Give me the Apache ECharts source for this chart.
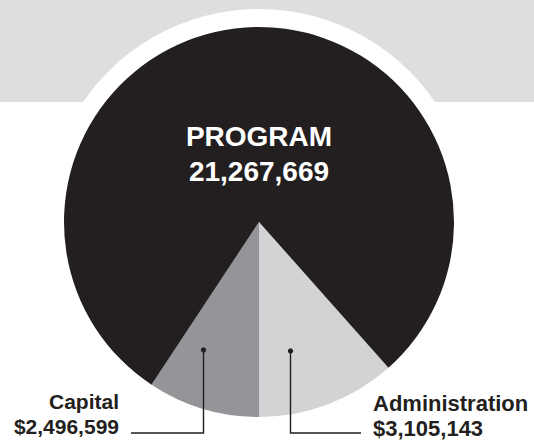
<!DOCTYPE html>
<html>
<head>
<meta charset="utf-8">
<script src="https://cdn.jsdelivr.net/npm/echarts@6/dist/echarts.min.js"></script>
<style>
html,body{margin:0;padding:0;background:#ffffff;}
#chart{width:534px;height:443px;}
</style>
</head>
<body>
<div id="chart"></div>
<script>
// ---- data ----
var categories = ['Administration', 'Capital', 'PROGRAM'];
var amounts = [3105143, 2496599, 21267669];
var valueLabels = ['$3,105,143', '$2,496,599', '21,267,669'];
var colors = ['#d1d3d4', '#939598', '#231f20'];

// ---- layout constants ----
var CX = 259, CY = 222, R = 195, RING = 213;
var total = amounts.reduce(function (a, b) { return a + b; }, 0);
var adminDeg = 360 * amounts[0] / total;

var chart = echarts.init(document.getElementById('chart'), null, { renderer: 'svg' });

var labelSpec = [
  { x: 373, y: 416, align: 'left', line: [[290.5, 351], [290.5, 433], [361, 433]] },
  { x: 119, y: 414, align: 'right', line: [[203.5, 350], [203.5, 433], [131, 433]] },
  { x: CX, y: 154, align: 'center' }
];

var graphics = [
  { type: 'rect', z: -10, silent: true, shape: { x: 0, y: 0, width: 534, height: 102 }, style: { fill: '#dddee0' } },
  { type: 'circle', z: -5, silent: true, shape: { cx: CX, cy: CY, r: RING }, style: { fill: '#ffffff' } }
];
labelSpec.forEach(function (s) {
  if (!s.line) return;
  graphics.push({ type: 'polyline', z: 100, silent: true, shape: { points: s.line }, style: { stroke: '#231f20', lineWidth: 1.4, fill: null } });
  graphics.push({ type: 'circle', z: 101, silent: true, shape: { cx: s.line[0][0], cy: s.line[0][1], r: 2.7 }, style: { fill: '#231f20' } });
});

var option = {
  animation: false,
  backgroundColor: '#ffffff',
  graphic: graphics,
  series: [{
    type: 'pie',
    center: [CX, CY],
    radius: [0, R],
    startAngle: -90 + adminDeg,
    clockwise: true,
    avoidLabelOverlap: false,
    silent: true,
    itemStyle: { borderWidth: 0 },
    emphasis: { disabled: true },
    label: {
      show: true,
      position: 'outside',
      fontFamily: '"Liberation Sans", Arial, sans-serif',
      fontWeight: 'bold',
      formatter: function (p) {
        var i = p.dataIndex;
        return i === 2 ? 'PROGRAM\n' + valueLabels[i] : categories[i] + '\n' + valueLabels[i];
      }
    },
    labelLine: { show: false },
    labelLayout: function (p) {
      var s = labelSpec[p.dataIndex];
      return { x: s.x, y: s.y, align: s.align, verticalAlign: 'middle' };
    },
    data: categories.map(function (c, i) {
      return {
        name: c,
        value: amounts[i],
        itemStyle: { color: colors[i] },
        label: i === 2
          ? { color: '#ffffff', fontSize: 28, lineHeight: 35, align: 'center' }
          : { color: '#231f20', fontSize: i === 0 ? 22 : 21, lineHeight: 24.5, align: i === 0 ? 'left' : 'right' }
      };
    })
  }]
};
chart.setOption(option);
</script>
</body>
</html>
